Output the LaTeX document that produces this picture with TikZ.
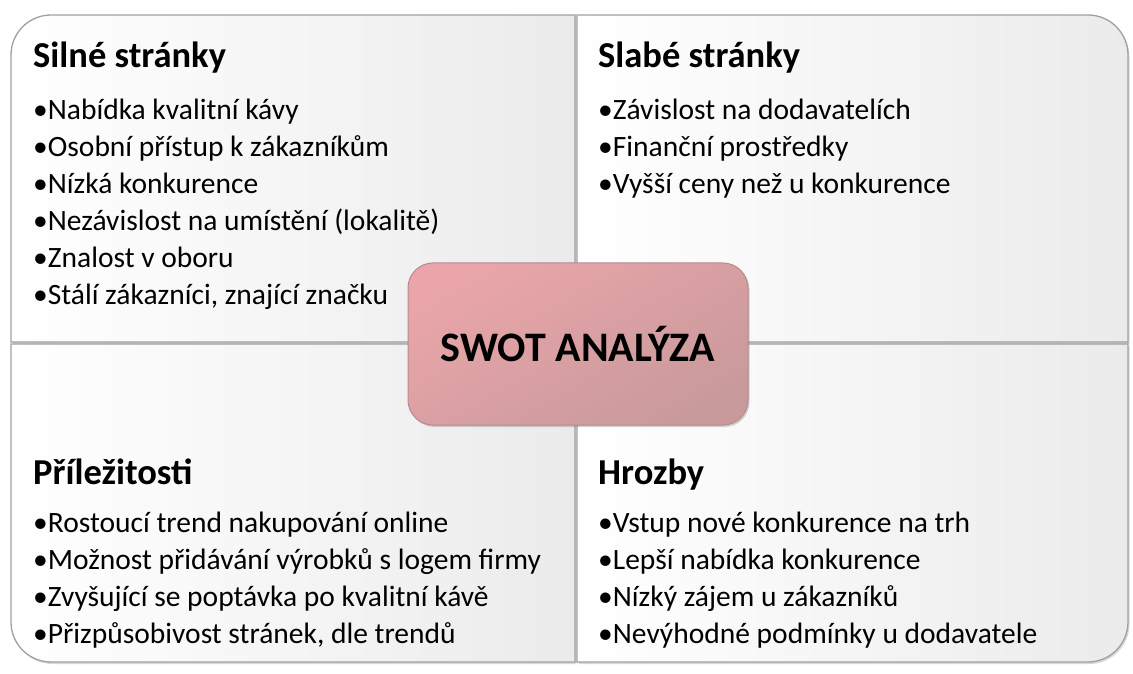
\documentclass[tikz,border=0pt]{standalone}
\usepackage{fontspec}
\setmainfont{Carlito}
\usetikzlibrary{shadows}
\definecolor{bord}{HTML}{A0A0A0}
\definecolor{quadgray}{HTML}{EBEBEB}
\definecolor{pinkA}{HTML}{E9A5A9}
\definecolor{pinkB}{HTML}{C99A9C}
\definecolor{pinkBorder}{HTML}{B88A8D}
\tikzset{
  quad/.style={draw=bord, line width=1.3pt, left color=white, right color=quadgray,
    drop shadow={shadow xshift=1.5pt, shadow yshift=-2pt, opacity=0.3}},
  qtitle/.style={anchor=base west, inner sep=0pt, font=\fontsize{36.5}{42}\selectfont\bfseries},
  bul/.style={anchor=base west, inner sep=0pt, font=\fontsize{29.5}{35}\selectfont},
  center/.style={draw=pinkBorder, line width=1pt, rounded corners=25pt,
    minimum width=340pt, minimum height=162pt, top color=pinkA, bottom color=pinkB,
    shading angle=30, font=\fontsize{42}{50}\selectfont\bfseries,
    drop shadow={shadow xshift=1.5pt, shadow yshift=-2pt, opacity=0.35}}
}
\begin{document}
\begin{tikzpicture}[x=1pt,y=1pt]
\useasboundingbox (0,0) rectangle (1133,673);
% quadrants
\path[quad] (11,331) -- (11,618) arc[start angle=180,end angle=90,radius=40] -- (575,658) -- (575,331) -- cycle;
\path[quad] (577,658) -- (1088,658) arc[start angle=90,end angle=0,radius=40] -- (1128,331) -- (577,331) -- cycle;
\path[quad] (11,329) -- (575,329) -- (575,11) -- (51,11) arc[start angle=270,end angle=180,radius=40] -- cycle;
\path[quad] (577,329) -- (1128,329) -- (1128,51) arc[start angle=0,end angle=-90,radius=40] -- (577,11) -- cycle;
% titles
\node[qtitle] (tS) at (33,605) {Silné stránky};
\node[qtitle] (tW) at (598,605) {Slabé stránky};
\node[qtitle] (tO) at (33,189) {Příležitosti};
\node[qtitle] (tT) at (598,189) {Hrozby};
% bullets
\foreach \t [count=\i] in {Nabídka kvalitní kávy, Osobní přístup k zákazníkům, Nízká konkurence,
  Nezávislost na umístění (lokalitě), Znalost v oboru, {Stálí zákazníci, znající značku}}
  \node[bul] (s\i) at (33,{553-37*(\i-1)}) {•\t};
\foreach \t [count=\i] in {Závislost na dodavatelích, Finanční prostředky, Vyšší ceny než u konkurence}
  \node[bul] (w\i) at (598,{553-37*(\i-1)}) {•\t};
\foreach \t [count=\i] in {Rostoucí trend nakupování online, Možnost přidávání výrobků s logem firmy,
  Zvyšující se poptávka po kvalitní kávě, {Přizpůsobivost stránek, dle trendů}}
  \node[bul] (o\i) at (33,{141-37*(\i-1)}) {•\t};
\foreach \t [count=\i] in {Vstup nové konkurence na trh, Lepší nabídka konkurence, Nízký zájem u zákazníků,
  Nevýhodné podmínky u dodavatele}
  \node[bul] (h\i) at (598,{141-37*(\i-1)}) {•\t};
% centre
\node[center] (swot) at (578,329) {SWOT ANALÝZA};
\end{tikzpicture}
\end{document}
